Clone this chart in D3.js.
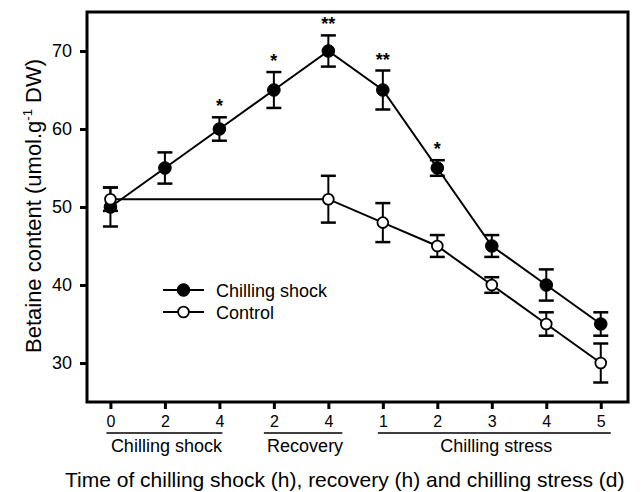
<!DOCTYPE html>
<html><head><meta charset="utf-8">
<script src="https://cdn.jsdelivr.net/npm/d3@7"></script>
<style>body{margin:0;background:#fff}svg{display:block}text{font-family:"Liberation Sans",Arial,sans-serif;fill:#000}</style>
</head><body><svg id="c" width="642" height="492"></svg>
<script>
// ---- data ----
const tickLabels = ["0","2","4","2","4","1","2","3","4","5"];
const shockIdx = [0,1,2,3,4,5,6,7,8,9];
const shockVal = [50,55,60,65,70,65,55,45,40,35];
const shockErr = [2.5,2,1.5,2.3,2,2.5,1,1.4,2,1.5];
const shockSig = ["","","*","*","**","**","*","","",""];
const ctrlIdx = [0,4,5,6,7,8,9];
const ctrlVal = [51,51,48,45,40,35,30];
const ctrlErr = [1.5,3,2.5,1.4,1,1.5,2.5];
const yTicks = [30,40,50,60,70];
const groupNames = ["Chilling shock","Recovery","Chilling stress"];
const groupStart = [0,3,5];
const groupEnd = [2,4,9];
const seriesNames = ["Chilling shock","Control"];

// ---- layout ----
const svg = d3.select("#c");
const L=87, T=12, R=628, B=402;
const x = d3.scaleLinear().domain([-0.43, 9.5]).range([L, R]);
const y = d3.scaleLinear().domain([25, 75]).range([B, T]);

const shock = shockIdx.map((d,i)=>({i:d, v:shockVal[i], e:shockErr[i], s:shockSig[i]}));
const ctrl = ctrlIdx.map((d,i)=>({i:d, v:ctrlVal[i], e:ctrlErr[i]}));

// axes
const yAxis = d3.axisLeft(y).tickValues(yTicks).tickSize(7).tickPadding(8);
const gy = svg.append("g").attr("transform",`translate(${L},0)`).call(yAxis);
gy.select(".domain").remove();
gy.selectAll(".tick line").attr("stroke","#000").attr("stroke-width",3);
gy.selectAll(".tick text").attr("font-size",18).attr("font-family",'"Liberation Sans",Arial,sans-serif');

const xAxis = d3.axisBottom(x).tickValues(shockIdx).tickFormat((d,i)=>tickLabels[i]).tickSize(7).tickPadding(7);
const gx = svg.append("g").attr("transform",`translate(0,${B})`).call(xAxis);
gx.select(".domain").remove();
gx.selectAll(".tick line").attr("stroke","#000").attr("stroke-width",3);
gx.selectAll(".tick text").attr("font-size",16).attr("font-family",'"Liberation Sans",Arial,sans-serif');

// frame
svg.append("rect").attr("x",L).attr("y",T).attr("width",R-L).attr("height",B-T)
  .attr("fill","none").attr("stroke","#000").attr("stroke-width",3);

// group labels
const padL=[4,10,5], padR=[3,14,10];
groupNames.forEach((n,k)=>{
  const x0 = x(groupStart[k]) - padL[k], x1 = x(groupEnd[k]) + padR[k];
  svg.append("line").attr("x1",x0).attr("x2",x1).attr("y1",433).attr("y2",433)
    .attr("stroke","#000").attr("stroke-width",1.5);
  svg.append("text").attr("x",(x0+x1)/2+2).attr("y",452).attr("text-anchor","middle")
    .attr("font-size",18).text(n);
});

// axis titles
svg.append("text").attr("x",65).attr("y",487).attr("font-size",21)
  .text("Time of chilling shock (h), recovery (h) and chilling stress (d)");
const yt = svg.append("text").attr("transform","translate(41,206) rotate(-90)")
  .attr("text-anchor","middle").attr("font-size",22);
yt.append("tspan").text("Betaine content (umol.g");
yt.append("tspan").attr("font-size",13).attr("dy",-9).text("-1");
yt.append("tspan").attr("dy",9).text(" DW)");

const line = d3.line().x(d=>x(d.i)).y(d=>y(d.v));

function drawSeries(data, filled){
  svg.append("path").datum(data).attr("d",line).attr("fill","none")
    .attr("stroke","#000").attr("stroke-width",2);
  const g = svg.append("g");
  data.forEach(d=>{
    const cx=x(d.i);
    g.append("line").attr("x1",cx).attr("x2",cx).attr("y1",y(d.v+d.e)).attr("y2",y(d.v-d.e))
      .attr("stroke","#000").attr("stroke-width",2);
    [d.v+d.e, d.v-d.e].forEach(v=>{
      g.append("line").attr("x1",cx-7.5).attr("x2",cx+7.5).attr("y1",y(v)).attr("y2",y(v))
        .attr("stroke","#000").attr("stroke-width",2.5);
    });
  });
  g.selectAll("circle").data(data).join("circle")
    .attr("cx",d=>x(d.i)).attr("cy",d=>y(d.v)).attr("r",filled?6.3:5.4)
    .attr("fill",filled?"#000":"#fff").attr("stroke","#000").attr("stroke-width",filled?1:1.8);
}
drawSeries(shock, true);
drawSeries(ctrl, false);

// significance marks
svg.selectAll("text.sig").data(shock.filter(d=>d.s)).join("text").attr("class","sig")
  .attr("x",d=>x(d.i)).attr("y",d=>y(d.v+d.e)-5).attr("text-anchor","middle")
  .attr("font-size",18).attr("font-weight","bold").text(d=>d.s);

// legend
seriesNames.forEach((n,k)=>{
  const ly = 290 + k*22;
  svg.append("line").attr("x1",163).attr("x2",204).attr("y1",ly).attr("y2",ly)
    .attr("stroke","#000").attr("stroke-width",2);
  svg.append("circle").attr("cx",183.5).attr("cy",ly).attr("r",k?5.4:6.3)
    .attr("fill",k?"#fff":"#000").attr("stroke","#000").attr("stroke-width",k?1.8:1);
  svg.append("text").attr("x",216).attr("y",ly+6.5).attr("font-size",18).text(n);
});
</script></body></html>
